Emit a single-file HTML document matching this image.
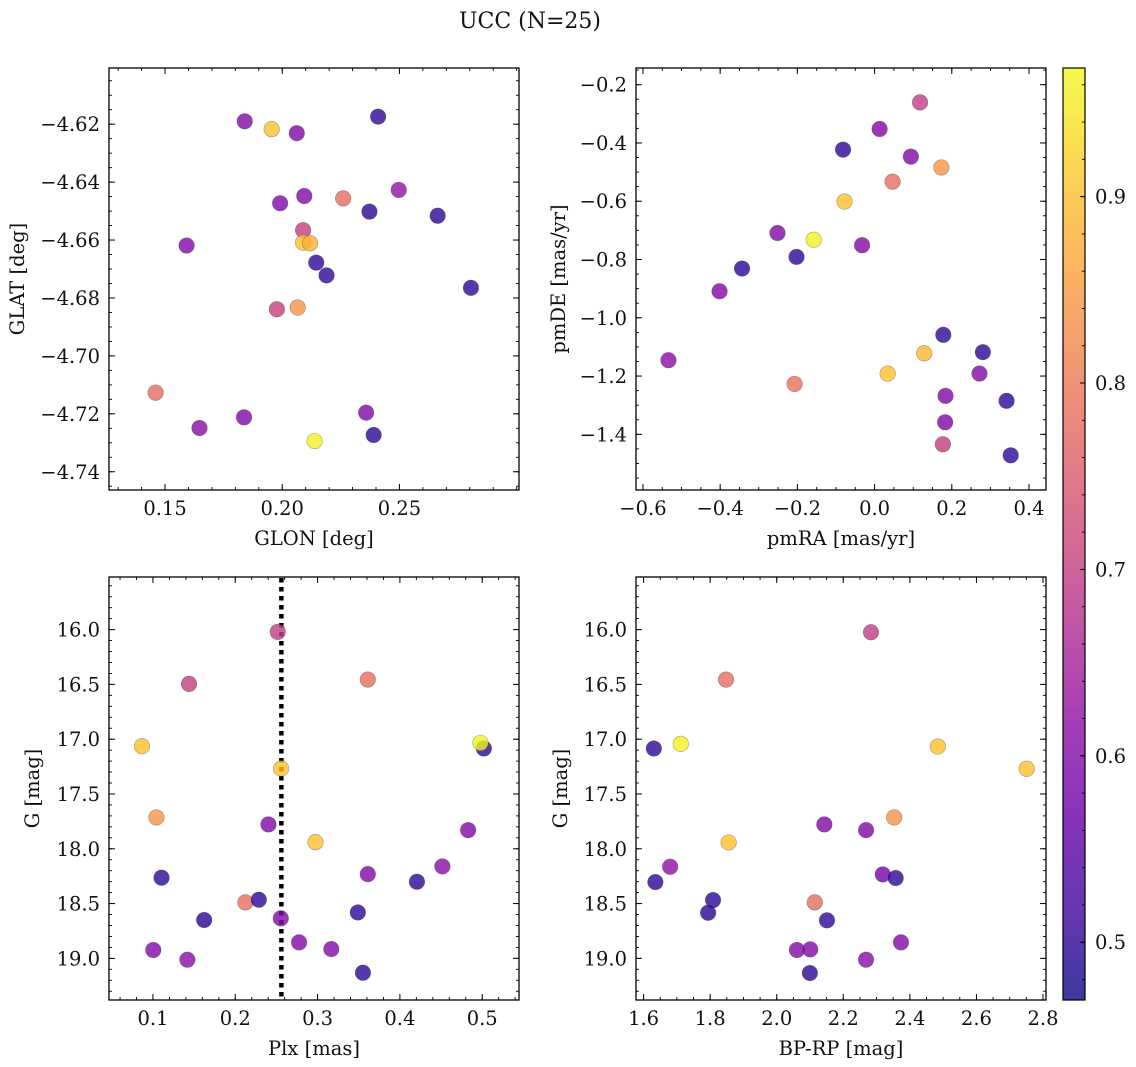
<!DOCTYPE html>
<html><head><meta charset="utf-8">
<style>
html,body{margin:0;padding:0;background:#fff;}
svg{display:block;font-family:"DejaVu Serif","Liberation Serif",serif;}
</style></head>
<body>
<svg id="fig" width="1136" height="1067" viewBox="0 0 1136 1067" xmlns="http://www.w3.org/2000/svg">
<text x="530" y="28" text-anchor="middle" font-size="22" fill="#111">UCC (N=25)</text>
</svg>
<script>
// ---------- data ----------
const glon = [0.184,0.1955,0.2062,0.2409,0.1991,0.2094,0.2260,0.2497,0.2372,0.2663,0.1592,0.2089,0.2089,0.2119,0.2145,0.2189,0.2805,0.1977,0.2066,0.1460,0.1647,0.1837,0.2358,0.2390,0.2138];
const glat = [-4.619,-4.6217,-4.6231,-4.6174,-4.6473,-4.6448,-4.6456,-4.6427,-4.6502,-4.6516,-4.6619,-4.6566,-4.6609,-4.6611,-4.6678,-4.6722,-4.6765,-4.6839,-4.6833,-4.7127,-4.7249,-4.7212,-4.7196,-4.7273,-4.7294];
const probA = [0.60,0.90,0.60,0.50,0.60,0.60,0.78,0.62,0.50,0.50,0.60,0.70,0.90,0.88,0.50,0.50,0.50,0.70,0.84,0.78,0.61,0.60,0.60,0.50,0.96];

const pmra = [0.1177,0.013,-0.0817,0.094,0.173,0.0466,-0.0778,-0.2515,-0.1578,-0.0324,-0.2022,-0.3433,-0.4016,0.178,0.1285,0.2805,-0.5339,0.0338,0.2717,-0.2071,0.1838,0.3418,0.1828,0.1769,0.3526];
const pmde = [-0.2607,-0.352,-0.423,-0.447,-0.484,-0.533,-0.601,-0.709,-0.732,-0.751,-0.791,-0.831,-0.909,-1.0586,-1.1216,-1.118,-1.1456,-1.1914,-1.1914,-1.227,-1.268,-1.285,-1.3585,-1.434,-1.472];
const probB = [0.70,0.60,0.50,0.60,0.84,0.78,0.90,0.60,0.96,0.60,0.50,0.50,0.60,0.50,0.89,0.50,0.61,0.90,0.60,0.79,0.60,0.50,0.60,0.70,0.50];

const plx = [0.2516,0.1438,0.361,0.0866,0.502,0.4979,0.2557,0.1042,0.2403,0.4829,0.2975,0.1104,0.361,0.4516,0.4207,0.2123,0.2286,0.3489,0.1622,0.2553,0.2775,0.3167,0.1004,0.1418,0.3551];
const gmagA = [16.021,16.495,16.456,17.064,17.085,17.033,17.267,17.714,17.778,17.830,17.939,18.264,18.231,18.161,18.301,18.489,18.465,18.581,18.650,18.635,18.854,18.915,18.924,19.012,19.131];
const probC = [0.70,0.70,0.78,0.90,0.50,0.96,0.90,0.84,0.60,0.60,0.90,0.50,0.60,0.61,0.50,0.78,0.50,0.50,0.50,0.60,0.60,0.60,0.60,0.61,0.50];

const bprp = [2.2832,1.8475,1.6308,1.7118,2.484,2.751,2.3528,2.143,2.2684,1.8555,1.6798,1.6354,2.3186,2.3574,1.8087,1.7939,2.1144,2.1509,2.3734,2.0608,2.1007,2.2684,2.0996];
const gmagB = [16.024,16.456,17.085,17.043,17.067,17.27,17.714,17.778,17.83,17.942,18.164,18.304,18.234,18.267,18.468,18.584,18.489,18.653,18.854,18.924,18.918,19.012,19.134];
const probD = [0.70,0.78,0.50,0.96,0.90,0.90,0.84,0.60,0.60,0.90,0.62,0.50,0.58,0.50,0.50,0.50,0.78,0.50,0.60,0.60,0.60,0.61,0.50];

const plxMarker = [0.256];

const ticksGlon = [0.15,0.20,0.25];
const ticksGlat = [-4.62,-4.64,-4.66,-4.68,-4.70,-4.72,-4.74];
const ticksPmra = [-0.6,-0.4,-0.2,0.0,0.2,0.4];
const ticksPmde = [-0.2,-0.4,-0.6,-0.8,-1.0,-1.2,-1.4];
const ticksPlx = [0.1,0.2,0.3,0.4,0.5];
const ticksG = [16.0,16.5,17.0,17.5,18.0,18.5,19.0];
const ticksBprp = [1.6,1.8,2.0,2.2,2.4,2.6,2.8];
const ticksCbar = [0.5,0.6,0.7,0.8,0.9];

const VMIN = 0.469, VMAX = 0.969;
const FS = 19.5;
// ---------- helpers ----------
const NS = "http://www.w3.org/2000/svg";
const svg = document.getElementById('fig');
function mk(tag, attrs, parent){
  const e = document.createElementNS(NS, tag);
  for (const k in attrs) e.setAttribute(k, attrs[k]);
  (parent||svg).appendChild(e);
  return e;
}
const plasma = [[13,8,135],[65,4,157],[106,0,168],[143,13,164],[177,42,144],[204,71,120],[225,100,98],[242,132,75],[252,166,54],[252,206,37],[240,249,33]];
function cmap(v){
  let t = (v-VMIN)/(VMAX-VMIN); t = Math.max(0,Math.min(1,t));
  const f = t*10, i = Math.min(9,Math.floor(f)), r = f-i;
  const a = plasma[i], b = plasma[i+1];
  return 'rgb('+a.map((x,k)=>Math.round(x+(b[k]-x)*r)).join(',')+')';
}
function fmt(v, d){ const s = Math.abs(v).toFixed(d); return (v<0 && +s!==0 ? '\u2212' : '') + s; }

function panel(p){
  const g = mk('g', {});
  
  
  const sx = v => p.x0 + (v-p.xd[0])/(p.xd[1]-p.xd[0])*(p.x1-p.x0);
  const sy = v => p.yInv ? p.y0 + (v-p.yd[0])/(p.yd[1]-p.yd[0])*(p.y1-p.y0)
                         : p.y1 - (v-p.yd[0])/(p.yd[1]-p.yd[0])*(p.y1-p.y0);
  const mg = mk('g', {stroke:'#000','stroke-width':0.9}, g);
  
  
  const lo = Math.min(...p.xd), hi = Math.max(...p.xd);
  for (let k = Math.ceil(lo/p.xminor-1e-6); k*p.xminor <= hi+1e-9; k++){
    const X = sx(k*p.xminor);
    mk('line',{x1:X,x2:X,y1:p.y1,y2:p.y1-3},mg); mk('line',{x1:X,x2:X,y1:p.y0,y2:p.y0+3},mg);
  }
  const ylo = Math.min(...p.yd), yhi = Math.max(...p.yd);
  for (let k = Math.ceil(ylo/p.yminor-1e-6); k*p.yminor <= yhi+1e-9; k++){
    const Y = sy(k*p.yminor);
    mk('line',{x1:p.x0,x2:p.x0+3,y1:Y,y2:Y},mg); mk('line',{x1:p.x1,x2:p.x1-3,y1:Y,y2:Y},mg);
  }
  p.xt.forEach(v=>{
    const X = sx(v);
    mk('line',{x1:X,x2:X,y1:p.y1,y2:p.y1-6,stroke:'#000','stroke-width':1},g);
    mk('line',{x1:X,x2:X,y1:p.y0,y2:p.y0+6,stroke:'#000','stroke-width':1},g);
    const t = mk('text',{x:X,y:p.y1+25,'text-anchor':'middle','font-size':FS,fill:'#111'},g);
    
    
    t.textContent = fmt(v,p.xdec);
  });
  p.yt.forEach(v=>{
    const Y = sy(v);
    mk('line',{x1:p.x0,x2:p.x0+6,y1:Y,y2:Y,stroke:'#000','stroke-width':1},g);
    mk('line',{x1:p.x1,x2:p.x1-6,y1:Y,y2:Y,stroke:'#000','stroke-width':1},g);
    const t = mk('text',{x:p.x0-9,y:Y+7,'text-anchor':'end','font-size':FS,fill:'#111'},g);
    
    
    t.textContent = fmt(v,p.ydec);
  });
  if (p.vline){
    p.vline.forEach(v=>{
      const l = mk('line',{x1:sx(v),x2:sx(v),y1:p.y0+1,y2:p.y1-1,stroke:'#000','stroke-width':4.5,'stroke-dasharray':'4.5,4.5'},g);
      
      
    });
  }
  p.xs.forEach((v,i)=>{
    const c = mk('circle',{cx:sx(v),cy:sy(p.ys[i]),r:7.8,fill:cmap(p.cs[i]),'fill-opacity':0.8,stroke:'rgba(60,60,60,0.45)','stroke-width':0.6},g);
    
    
  });
  const fr = mk('rect',{x:p.x0,y:p.y0,width:p.x1-p.x0,height:p.y1-p.y0,fill:'none',stroke:'#000','stroke-width':1.3},g);
  
  
  const xl = mk('text',{x:(p.x0+p.x1)/2,y:p.y1+55,'text-anchor':'middle','font-size':FS,fill:'#111'},g);
  
  
  xl.textContent = p.xlabel;
  const yc = (p.y0+p.y1)/2;
  const yl = mk('text',{x:p.ylx,y:yc,'text-anchor':'middle','font-size':FS,fill:'#111',transform:'rotate(-90 '+p.ylx+' '+yc+')'},g);
  
  
  yl.textContent = p.ylabel;
}

panel({name:'glon-glat-panel',x0:109,x1:519,y0:68,y1:490,xd:[0.1261,0.301],yd:[-4.7463,-4.6006],
  xt:ticksGlon,yt:ticksGlat,xminor:0.01,yminor:0.005,xdec:2,ydec:2,xs:glon,ys:glat,cs:probA,
  xlabel:'GLON [deg]',ylabel:'GLAT [deg]',ylx:24});
panel({name:'proper-motion-panel',x0:636,x1:1046,y0:68,y1:490,xd:[-0.618,0.444],yd:[-1.591,-0.1428],
  xt:ticksPmra,yt:ticksPmde,xminor:0.05,yminor:0.05,xdec:1,ydec:1,xs:pmra,ys:pmde,cs:probB,
  xlabel:'pmRA [mas/yr]',ylabel:'pmDE [mas/yr]',ylx:565});
panel({name:'plx-g-panel',x0:109,x1:519,y0:577,y1:1000,xd:[0.0466,0.5447],yd:[15.52,19.38],yInv:true,
  xt:ticksPlx,yt:ticksG,xminor:0.02,yminor:0.1,xdec:1,ydec:1,xs:plx,ys:gmagA,cs:probC,vline:plxMarker,
  xlabel:'Plx [mas]',ylabel:'G [mag]',ylx:39});
panel({name:'cmd-panel',x0:636,x1:1046,y0:577,y1:1000,xd:[1.5772,2.809],yd:[15.52,19.38],yInv:true,
  xt:ticksBprp,yt:ticksG,xminor:0.05,yminor:0.1,xdec:1,ydec:1,xs:bprp,ys:gmagB,cs:probD,
  xlabel:'BP-RP [mag]',ylabel:'G [mag]',ylx:567});

// ---------- colorbar ----------
(function(){
  const cx0=1063, cx1=1085, cy0=68, cy1=1000;
  const g = mk('g',{});
  
  
  const defs = mk('defs',{},g);
  const lg = mk('linearGradient',{id:'cbg',x1:0,y1:1,x2:0,y2:0},defs);
  for (let i=0;i<=20;i++){
    const v = VMIN + (VMAX-VMIN)*i/20;
    mk('stop',{offset:(i/20),'stop-color':cmap(v),'stop-opacity':0.8},lg);
  }
  mk('rect',{x:cx0,y:cy0,width:cx1-cx0,height:cy1-cy0,fill:'url(#cbg)'},g);
  const sy = v => cy1 - (v-VMIN)/(VMAX-VMIN)*(cy1-cy0);
  for (let k=Math.ceil(VMIN/0.02); k*0.02<=VMAX; k++){
    const Y = sy(k*0.02);
    mk('line',{x1:cx1,x2:cx1-3,y1:Y,y2:Y,stroke:'#000','stroke-width':0.9},g);
  }
  ticksCbar.forEach(v=>{
    const Y = sy(v);
    mk('line',{x1:cx1,x2:cx1-5,y1:Y,y2:Y,stroke:'#000','stroke-width':1},g);
    const t = mk('text',{x:cx1+10,y:Y+7,'font-size':FS,fill:'#111'},g);
    
    
    t.textContent = v.toFixed(1);
  });
  mk('rect',{x:cx0,y:cy0,width:cx1-cx0,height:cy1-cy0,fill:'none',stroke:'#000','stroke-width':1.2},g);
})();
</script>
</body></html>
